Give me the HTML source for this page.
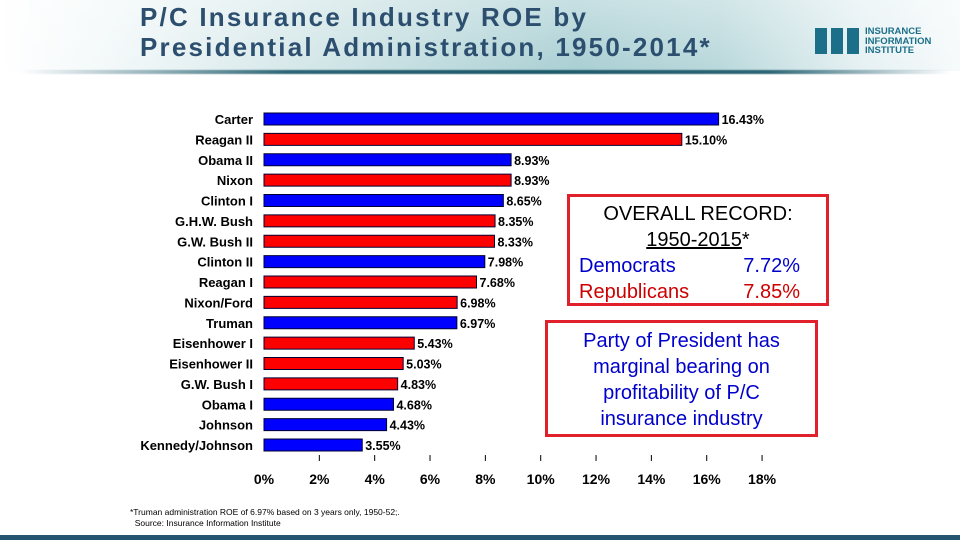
<!DOCTYPE html>
<html><head><meta charset="utf-8"><style>
body{margin:0;width:960px;height:540px;overflow:hidden;background:#fff;font-family:"Liberation Sans",sans-serif;position:relative}
#hdr{position:absolute;left:0;top:0;width:960px;height:71px;background:linear-gradient(90deg,#fff 0%,#f2f8f9 12%,#cfe4e6 35%,#a9cfd3 60%,#b9d8db 75%,#e6f1f3 90%,#f6fafb 100%)}
#hdr:after{content:"";position:absolute;left:0;top:0;width:100%;height:100%;background:linear-gradient(180deg,rgba(255,255,255,0.35),rgba(255,255,255,0))}
#rule{position:absolute;left:0;top:70px;width:960px;height:4px;background:linear-gradient(90deg,rgba(40,90,105,0) 2%,#2d6676 30%,#1f5a6b 55%,#2d6676 80%,rgba(40,90,105,0) 99%);filter:blur(0.6px)}
#title{position:absolute;left:140px;top:2px;font-size:26px;letter-spacing:2.2px;font-weight:bold;color:#2d4f6f;line-height:30px}
.box{position:absolute;border:3px solid #e0202a;background:#fff;text-align:center;font-size:20px;line-height:26px}
.row{display:flex;justify-content:space-between;padding:0 26px 0 9px}
</style></head><body>
<div id="hdr"></div>
<div id="rule"></div>
<div id="title">P/C Insurance Industry ROE by<br>Presidential Administration, 1950-2014*</div>
<div style="position:absolute;left:815px;top:26px;">
<div style="position:absolute;left:0;top:2px;width:46px;height:26px;background:repeating-linear-gradient(90deg,#1c6f88 0 12px,transparent 12px 16px)"></div>
<div style="position:absolute;left:50px;top:1px;font-size:9.5px;font-weight:bold;color:#1c6f88;line-height:9.5px">INSURANCE<br>INFORMATION<br>INSTITUTE</div></div>
<svg id="chart" width="960" height="540" style="position:absolute;left:0;top:0"></svg>
<div class="box" style="left:567px;top:194px;width:256px;height:106px;">
<div style="padding-top:4px;color:#000">OVERALL RECORD:<br><u>1950-2015</u>*</div>
<div class="row" style="color:#0000cc"><span>Democrats</span><span>7.72%</span></div>
<div class="row" style="color:#cc0000"><span>Republicans</span><span>7.85%</span></div></div>
<div class="box" style="left:545px;top:320px;width:247px;padding:5px 10px 0;height:106px;color:#0000cc">Party of President has marginal bearing on profitability of P/C insurance industry</div>
<div style="position:absolute;left:130px;top:507px;font-size:8.5px;line-height:11px;color:#000">*Truman administration ROE of 6.97% based on 3 years only, 1950-52;.<br>&nbsp;&nbsp;Source: Insurance Information Institute</div>
<div style="position:absolute;left:0;top:535px;width:960px;height:5px;background:#23566e"></div>
<script>
const names=["Carter","Reagan II","Obama II","Nixon","Clinton I","G.H.W. Bush","G.W. Bush II","Clinton II","Reagan I","Nixon/Ford","Truman","Eisenhower I","Eisenhower II","G.W. Bush I","Obama I","Johnson","Kennedy/Johnson"];
const values=[16.43,15.10,8.93,8.93,8.65,8.35,8.33,7.98,7.68,6.98,6.97,5.43,5.03,4.83,4.68,4.43,3.55];
const party=["D","R","D","R","D","R","R","D","R","R","D","R","R","R","D","D","D"];
const ticks=[0,2,4,6,8,10,12,14,16,18];
const svg=document.getElementById('chart');const NS="http://www.w3.org/2000/svg";
const x=v=>264+v*27.67;const y=i=>119+i*20.375;
function mk(t,a,txt){const e=document.createElementNS(NS,t);for(const k in a)e.setAttribute(k,a[k]);if(txt!=null)e.textContent=txt;svg.appendChild(e);return e;}
names.forEach((n,i)=>{
const r=mk('rect',{x:x(0),y:y(i)-6,width:x(values[i])-x(0),height:12,fill:party[i]=="D"?"#0000ff":"#ff0000",stroke:"#000033","stroke-width":1});


const l=mk('text',{x:253,y:y(i)+5,"text-anchor":"end","font-size":13,"font-weight":"bold"},n);


const v=mk('text',{x:x(values[i])+3,y:y(i)+5,"font-size":12.5,"font-weight":"bold"},values[i].toFixed(2)+"%");


});
ticks.forEach(t=>{
if(t>0){const k=mk('line',{x1:x(t),x2:x(t),y1:455,y2:461,stroke:"#000"});

}
const tl=mk('text',{x:x(t),y:484,"text-anchor":"middle","font-size":14,"font-weight":"bold"},t+"%");


});
</script>
</body></html>
